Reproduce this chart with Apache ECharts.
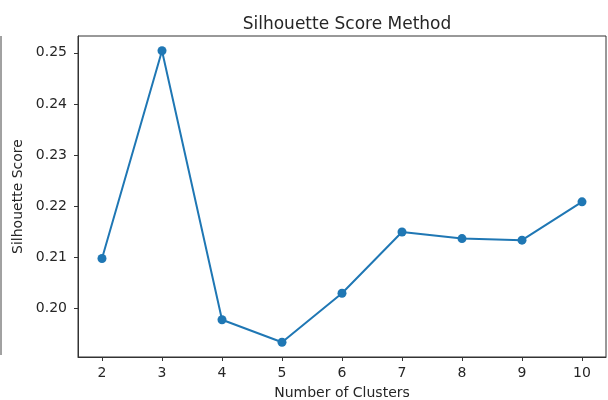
<!DOCTYPE html>
<html>
<head>
<meta charset="utf-8">
<script src="https://cdn.jsdelivr.net/npm/echarts@6/dist/echarts.min.js"></script>
<style>
  html, body { margin: 0; padding: 0; background: #fff; }
  #chart { width: 608px; height: 400px; }
</style>
</head>
<body>
<div id="chart"></div>
<script>
// data
var clusters = [2, 3, 4, 5, 6, 7, 8, 9, 10];
var scores = [0.2097, 0.2504, 0.1977, 0.1933, 0.2029, 0.2149, 0.2136, 0.2133, 0.2208];
var xTicks = [2, 3, 4, 5, 6, 7, 8, 9, 10];
var yTicks = [0.20, 0.21, 0.22, 0.23, 0.24, 0.25];

var chartDom = document.getElementById('chart');
var myChart = echarts.init(chartDom);
var ink = '#262626';
var font = 'DejaVu Sans';

var option = {
  animation: false,
  title: {
    text: 'Silhouette Score Method',
    left: 342,
    top: 11,
    textAlign: 'center',
    textStyle: { fontFamily: font, fontSize: 17, fontWeight: 'normal', color: ink }
  },
  grid: {
    left: 78, right: 2, top: 36, bottom: 43,
    outerBoundsMode: 'none',
    containLabel: false,
    show: true, borderColor: '#333', borderWidth: 1, backgroundColor: 'transparent'
  },
  xAxis: {
    type: 'value',
    min: 1.6, max: 10.4,
    name: 'Number of Clusters',
    nameLocation: 'middle',
    nameGap: 29,
    nameTextStyle: { fontFamily: font, fontSize: 14, color: ink },
    axisLine: { show: true, lineStyle: { color: '#333', width: 1 } },
    axisTick: { show: true, length: 4, lineStyle: { color: '#333' }, customValues: xTicks },
    axisLabel: { fontFamily: font, fontSize: 14, color: ink, margin: 9, customValues: xTicks },
    splitLine: { show: false }
  },
  yAxis: {
    type: 'value',
    min: 0.1904, max: 0.2533,
    name: 'Silhouette Score',
    nameLocation: 'middle',
    nameGap: 47,
    nameTextStyle: { fontFamily: font, fontSize: 14, color: ink },
    axisLine: { show: true, lineStyle: { color: '#333', width: 1 } },
    axisTick: { show: true, length: 4, lineStyle: { color: '#333' }, customValues: yTicks },
    axisLabel: {
      fontFamily: font, fontSize: 14, color: ink, margin: 11, customValues: yTicks,
      formatter: function (v) { return v.toFixed(2); }
    },
    splitLine: { show: false }
  },
  graphic: [{
    // stray frame edge at the far left of the picture
    type: 'line',
    shape: { x1: 1, y1: 36, x2: 1, y2: 355 },
    style: { stroke: '#444', lineWidth: 1 }
  }],
  series: [{
    type: 'line',
    data: clusters.map(function (c, i) { return [c, scores[i]]; }),
    symbol: 'circle',
    symbolSize: 9,
    lineStyle: { color: '#1f77b4', width: 2 },
    itemStyle: { color: '#1f77b4' }
  }]
};
myChart.setOption(option);
</script>
</body>
</html>
